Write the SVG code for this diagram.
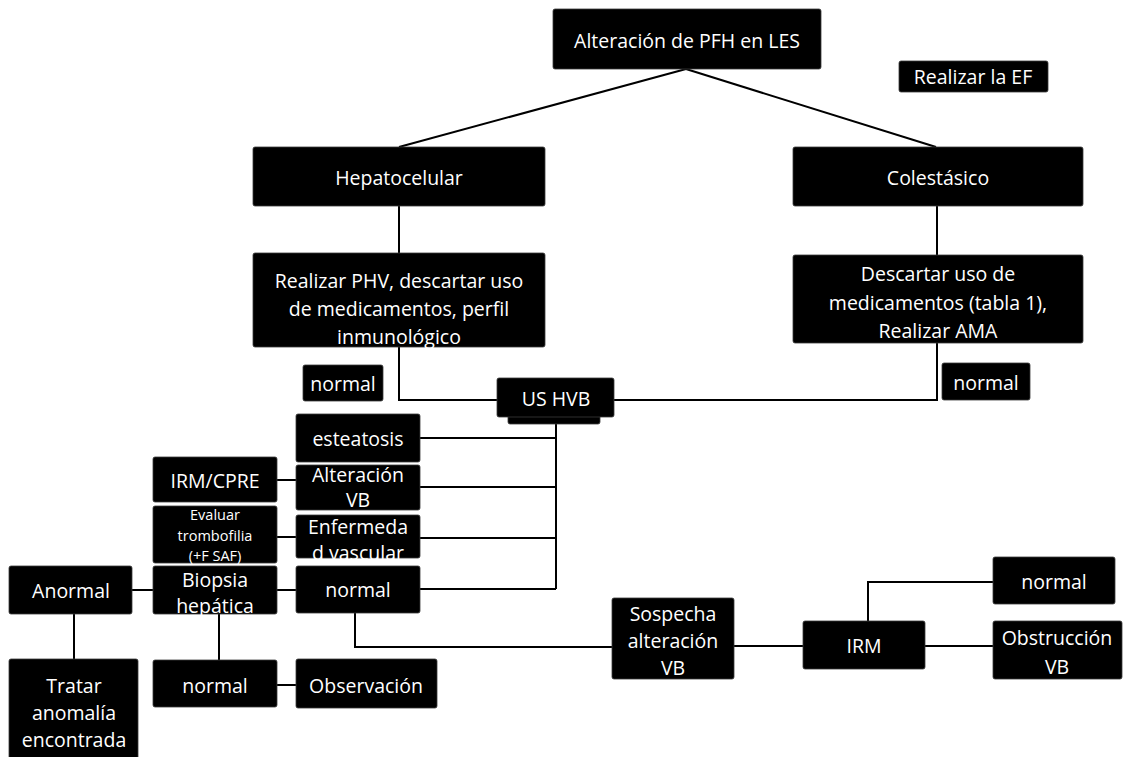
<svg xmlns="http://www.w3.org/2000/svg" width="1132" height="757" viewBox="0 0 1132 757">
<style>
.b{fill:#000;stroke:#3a3a3a;stroke-width:0.8}
.t{fill:#fff;font-family:"Open Sans","Noto Sans",sans-serif;font-size:19.5px;text-anchor:middle;dominant-baseline:central}
.s{font-size:14.5px}
.c{fill:none;stroke:#000;stroke-width:2}
</style>
<rect width="1132" height="757" fill="#fff"/>
<g id="connectors">
<path class="c" d="M686,69 L399,147"/>
<path class="c" d="M686,69 L936,147"/>
<path class="c" d="M399,206 V253"/>
<path class="c" d="M937,206 V255"/>
<path class="c" d="M399,347 V400 H497"/>
<path class="c" d="M614,400 H937 V343"/>
<path class="c" d="M556,423 V589"/>
<path class="c" d="M420,438 H556 M420,487 H556 M420,538 H556 M420,589 H556"/>
<path class="c" d="M277,480 H296 M277,537 H296 M132,590 H153 M277,590 H296"/>
<path class="c" d="M74,614 V659 M219,614 V660"/>
<path class="c" d="M277,685 H296"/>
<path class="c" d="M355,613 V647 H612"/>
<path class="c" d="M734,646 H803 M925,646 H993"/>
<path class="c" d="M868,621 V582 H993"/>
</g>
<g id="n-top"><rect class="b" x="553" y="9" width="268" height="60" rx="2"/><text class="t" x="687" y="40">Alteración de PFH en LES</text></g>
<g id="n-ef"><rect class="b" x="899" y="61" width="149" height="31" rx="2"/><text class="t" x="973" y="76">Realizar la EF</text></g>
<g id="n-hep"><rect class="b" x="253" y="147" width="292" height="59" rx="2"/><text class="t" x="399" y="177">Hepatocelular</text></g>
<g id="n-col"><rect class="b" x="793" y="147" width="290" height="59" rx="2"/><text class="t" x="938" y="177">Colestásico</text></g>
<g id="n-phv"><rect class="b" x="253" y="253" width="292" height="94" rx="2"/><text class="t" x="399" y="280">Realizar PHV, descartar uso</text><text class="t" x="399" y="308">de medicamentos, perfil</text><text class="t" x="399" y="336">inmunológico</text></g>
<g id="n-desc"><rect class="b" x="793" y="255" width="290" height="88" rx="2"/><text class="t" x="938" y="273">Descartar uso de</text><text class="t" x="938" y="302">medicamentos (tabla 1),</text><text class="t" x="938" y="330">Realizar AMA</text></g>
<g id="n-normal1"><rect class="b" x="303" y="365" width="80" height="36" rx="2"/><text class="t" x="343" y="383">normal</text></g>
<g id="n-normal2"><rect class="b" x="942" y="363" width="88" height="37" rx="2"/><text class="t" x="986" y="382">normal</text></g>
<g id="n-us"><rect class="b" x="508" y="410" width="92" height="14" rx="2"/><rect class="b" x="497" y="378" width="117" height="39" rx="2"/><text class="t" x="556" y="398">US HVB</text></g>
<g id="n-est"><rect class="b" x="296" y="414" width="124" height="48" rx="2"/><text class="t" x="358" y="438">esteatosis</text></g>
<g id="n-altvb"><rect class="b" x="296" y="465" width="124" height="45" rx="2"/><text class="t" x="358" y="474">Alteración</text><text class="t" x="358" y="499">VB</text></g>
<g id="n-enf"><rect class="b" x="296" y="515" width="124" height="43" rx="2"/><text class="t" x="358" y="526">Enfermeda</text><text class="t" x="358" y="552">d vascular</text></g>
<g id="n-normal3"><rect class="b" x="296" y="566" width="124" height="47" rx="2"/><text class="t" x="358" y="589">normal</text></g>
<g id="n-irmcpre"><rect class="b" x="153" y="457" width="124" height="45" rx="2"/><text class="t" x="215" y="480">IRM/CPRE</text></g>
<g id="n-trombo"><rect class="b" x="153" y="506" width="124" height="57" rx="2"/><text class="t s" x="215" y="514">Evaluar</text><text class="t s" x="215" y="535">trombofilia</text><text class="t s" x="215" y="555">(+F SAF)</text></g>
<g id="n-anormal"><rect class="b" x="9" y="566" width="123" height="48" rx="2"/><text class="t" x="71" y="590">Anormal</text></g>
<g id="n-biopsia"><rect class="b" x="153" y="566" width="124" height="48" rx="2"/><text class="t" x="215" y="579">Biopsia</text><text class="t" x="215" y="605">hepática</text></g>
<g id="n-tratar"><rect class="b" x="9" y="659" width="129" height="100" rx="2"/><text class="t" x="74" y="685">Tratar</text><text class="t" x="74" y="712">anomalía</text><text class="t" x="74" y="739">encontrada</text></g>
<g id="n-normal4"><rect class="b" x="153" y="660" width="124" height="47" rx="2"/><text class="t" x="215" y="685">normal</text></g>
<g id="n-obs"><rect class="b" x="296" y="659" width="141" height="49" rx="2"/><text class="t" x="366" y="685">Observación</text></g>
<g id="n-sosp"><rect class="b" x="612" y="598" width="122" height="81" rx="2"/><text class="t" x="673" y="613">Sospecha</text><text class="t" x="673" y="640">alteración</text><text class="t" x="673" y="667">VB</text></g>
<g id="n-irm"><rect class="b" x="803" y="621" width="122" height="48" rx="2"/><text class="t" x="864" y="645">IRM</text></g>
<g id="n-obst"><rect class="b" x="993" y="621" width="129" height="58" rx="2"/><text class="t" x="1057" y="637">Obstrucción</text><text class="t" x="1057" y="666">VB</text></g>
<g id="n-normal5"><rect class="b" x="993" y="557" width="122" height="47" rx="2"/><text class="t" x="1054" y="581">normal</text></g>
</svg>
